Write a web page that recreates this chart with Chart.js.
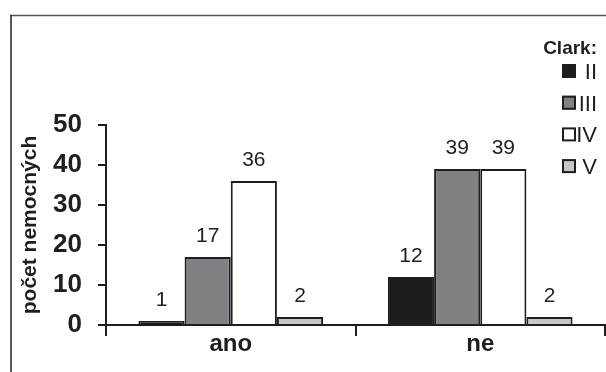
<!DOCTYPE html>
<html>
<head>
<meta charset="utf-8">
<script src="https://cdn.jsdelivr.net/npm/chart.js@4/dist/chart.umd.min.js"></script>
<style>
  html, body { margin: 0; padding: 0; background: #fff; }
  #c { display: block; }
</style>
</head>
<body>
<canvas id="c" width="606" height="372"></canvas>
<script>
// Categories and Clark-level counts
const categories = ['ano', 'ne'];
const seriesLabels = ['II', 'III', 'IV', 'V'];
const clarkII = [1, 12];
const clarkIII = [17, 39];
const clarkIV = [36, 39];
const clarkV = [2, 2];
const yMax = 50;
const yStep = 10;
const yTitle = 'počet nemocných';
const legendTitle = 'Clark:';

const INK = '#1e1e1e';
const fills = ['#1c1c1c', '#808184', '#ffffff', '#c6c7c9'];
const FONT = "'Liberation Sans', Arial, Helvetica, sans-serif";

Chart.defaults.font.family = FONT;
Chart.defaults.color = INK;

// Outer frame lines (top and left)
const framePlugin = {
  id: 'frame',
  beforeDraw(chart) {
    const ctx = chart.ctx;
    ctx.save();
    ctx.fillStyle = '#fff';
    ctx.fillRect(0, 0, chart.width, chart.height);
    ctx.strokeStyle = '#555';
    ctx.lineWidth = 1.5;
    ctx.beginPath();
    ctx.moveTo(10, 15.5);
    ctx.lineTo(chart.width, 15.5);
    ctx.stroke();
    ctx.strokeStyle = '#222';
    ctx.beginPath();
    ctx.moveTo(11, 15);
    ctx.lineTo(11, chart.height);
    ctx.stroke();
    ctx.restore();
  }
};

// Value labels above each bar
const valueLabels = {
  id: 'valueLabels',
  afterDatasetsDraw(chart) {
    const ctx = chart.ctx;
    ctx.save();
    ctx.font = '21px ' + FONT;
    ctx.fillStyle = INK;
    ctx.textAlign = 'center';
    ctx.textBaseline = 'alphabetic';
    chart.data.datasets.forEach((ds, i) => {
      chart.getDatasetMeta(i).data.forEach((el, j) => {
        ctx.fillText(String(ds.data[j]), el.x, el.y - 15);
      });
    });
    ctx.restore();
  }
};

// Legend block in the upper right
const clarkLegend = {
  id: 'clarkLegend',
  afterDraw(chart) {
    const ctx = chart.ctx;
    const right = 597;
    ctx.save();
    ctx.fillStyle = INK;
    ctx.textAlign = 'right';
    ctx.textBaseline = 'alphabetic';
    ctx.font = 'bold 19px ' + FONT;
    ctx.fillText(legendTitle, right, 54);
    ctx.font = '22px ' + FONT;
    chart.data.datasets.forEach((ds, i) => {
      const cy = 71 + i * 31.7;
      ctx.fillStyle = ds.backgroundColor;
      ctx.fillRect(562, cy - 7, 14, 14);
      ctx.strokeStyle = INK;
      ctx.lineWidth = 2;
      ctx.strokeRect(563, cy - 6, 12, 12);
      ctx.fillStyle = INK;
      ctx.fillText(ds.label, right, cy + 8);
    });
    ctx.restore();
  }
};

const datasets = [clarkII, clarkIII, clarkIV, clarkV].map((values, i) => ({
  label: seriesLabels[i],
  data: values,
  backgroundColor: fills[i],
  borderColor: INK,
  borderWidth: 2,
  barPercentage: 1,
  categoryPercentage: 0.74
}));

new Chart(document.getElementById('c'), {
  type: 'bar',
  data: { labels: categories, datasets },
  options: {
    responsive: false,
    animation: false,
    devicePixelRatio: 1,
    layout: { padding: { top: 125, right: 1, left: 0, bottom: 0 } },
    plugins: {
      legend: { display: false },
      tooltip: { enabled: false }
    },
    scales: {
      x: {
        grid: {
          offset: true,
          drawOnChartArea: false,
          drawTicks: true,
          tickLength: 11,
          tickColor: INK,
          lineWidth: 2
        },
        border: { display: true, color: INK, width: 2 },
        ticks: {
          color: INK,
          padding: -6,
          font: { size: 24, weight: 'bold' }
        },
        afterFit(scale) { scale.height = 47; }
      },
      y: {
        min: 0,
        max: yMax,
        ticks: {
          stepSize: yStep,
          color: INK,
          padding: 16,
          font: { size: 26, weight: 'bold' }
        },
        grid: {
          drawOnChartArea: false,
          drawTicks: true,
          tickLength: 8,
          tickColor: INK,
          lineWidth: 2
        },
        border: { display: true, color: INK, width: 2 },
        title: {
          display: true,
          text: yTitle,
          color: INK,
          padding: { top: 18, bottom: 0 },
          font: { size: 21, weight: 'bold' }
        },
        afterFit(scale) { scale.width = 106; }
      }
    }
  },
  plugins: [framePlugin, valueLabels, clarkLegend]
});
</script>
</body>
</html>
